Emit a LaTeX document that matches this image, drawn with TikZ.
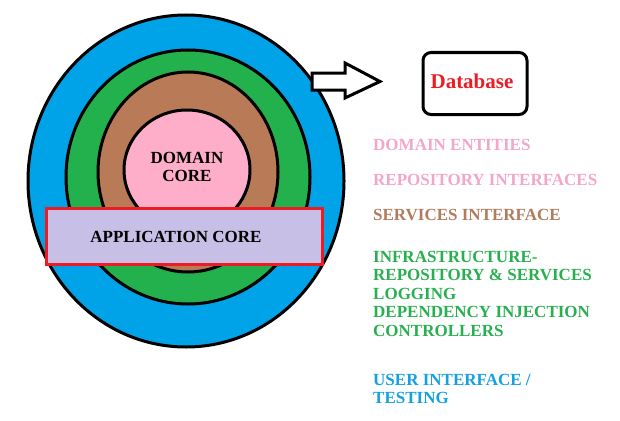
\documentclass[tikz,border=0pt]{standalone}
\usepackage{fontspec}
\setmainfont{Liberation Serif}
\definecolor{ringblue}{RGB}{0,162,232}
\definecolor{ringgreen}{RGB}{34,177,76}
\definecolor{ringbrown}{RGB}{185,122,87}
\definecolor{ringpink}{RGB}{255,174,201}
\definecolor{applav}{RGB}{200,191,231}
\definecolor{appred}{RGB}{237,28,36}
\definecolor{txtpink}{RGB}{243,166,200}
\definecolor{txtbrown}{RGB}{176,124,92}
\definecolor{txtgreen}{RGB}{40,175,80}
\definecolor{txtblue}{RGB}{20,160,225}
\tikzset{
  ring/.style={draw=black, line width=3pt},
  lbl/.style={font=\fontsize{17}{18.5}\selectfont\bfseries, inner sep=0pt, anchor=base west},
  ctr/.style={font=\fontsize{17}{18.5}\selectfont\bfseries, inner sep=0pt, anchor=base},
}
\begin{document}
\begin{tikzpicture}[x=1pt,y=-1pt]
\useasboundingbox (0,0) rectangle (620,420);
% rings
\path[ring, fill=ringblue] (186,181) ellipse [x radius=158pt, y radius=166pt];
\path[ring, fill=ringgreen] (188,177) ellipse [x radius=122pt, y radius=127pt];
\path[ring, fill=ringbrown] (188,172) ellipse [x radius=90pt, y radius=100pt];
\path[ring, fill=ringpink] (187,170) ellipse [x radius=63pt, y radius=60pt];
\node[ctr] (dom1) at (187,163) {DOMAIN};
\node[ctr] (dom2) at (187,181) {CORE};
% application core
\node[draw=appred, line width=3pt, fill=applav, minimum width=276pt, minimum height=56pt, inner sep=0pt] (app) at (184,236) {};
\node[ctr] (apptext) at (176,242) {APPLICATION CORE};
% block arrow
\draw[line width=3pt, fill=white, line join=miter]
  (312,73) -- (345,73) -- (345,63) -- (380,81.5) -- (345,98) -- (345,90) -- (312,90) -- cycle;
% database
\node[draw=black, line width=3pt, rounded corners=8pt, minimum width=104pt, minimum height=62pt, inner sep=0pt] (db) at (475,83.5) {};
\node[font=\fontsize{21}{24}\selectfont\bfseries, text=appred, inner sep=0pt, anchor=base] (dbtext) at (472,88) {Database};
% right labels
\node[lbl, text=txtpink] (l1) at (373,150) {DOMAIN ENTITIES};
\node[lbl, text=txtpink] (l2) at (373,185) {REPOSITORY INTERFACES};
\node[lbl, text=txtbrown] (l3) at (373,220) {SERVICES INTERFACE};
\node[lbl, text=txtgreen] (l4) at (373,262) {INFRASTRUCTURE-};
\node[lbl, text=txtgreen] (l5) at (373,280.5) {REPOSITORY \& SERVICES};
\node[lbl, text=txtgreen] (l6) at (373,299) {LOGGING};
\node[lbl, text=txtgreen] (l7) at (373,317.5) {DEPENDENCY INJECTION};
\node[lbl, text=txtgreen] (l8) at (373,336) {CONTROLLERS};
\node[lbl, text=txtblue] (l9) at (373,385) {USER INTERFACE /};
\node[lbl, text=txtblue] (l10) at (373,403) {TESTING};
\end{tikzpicture}
\end{document}
